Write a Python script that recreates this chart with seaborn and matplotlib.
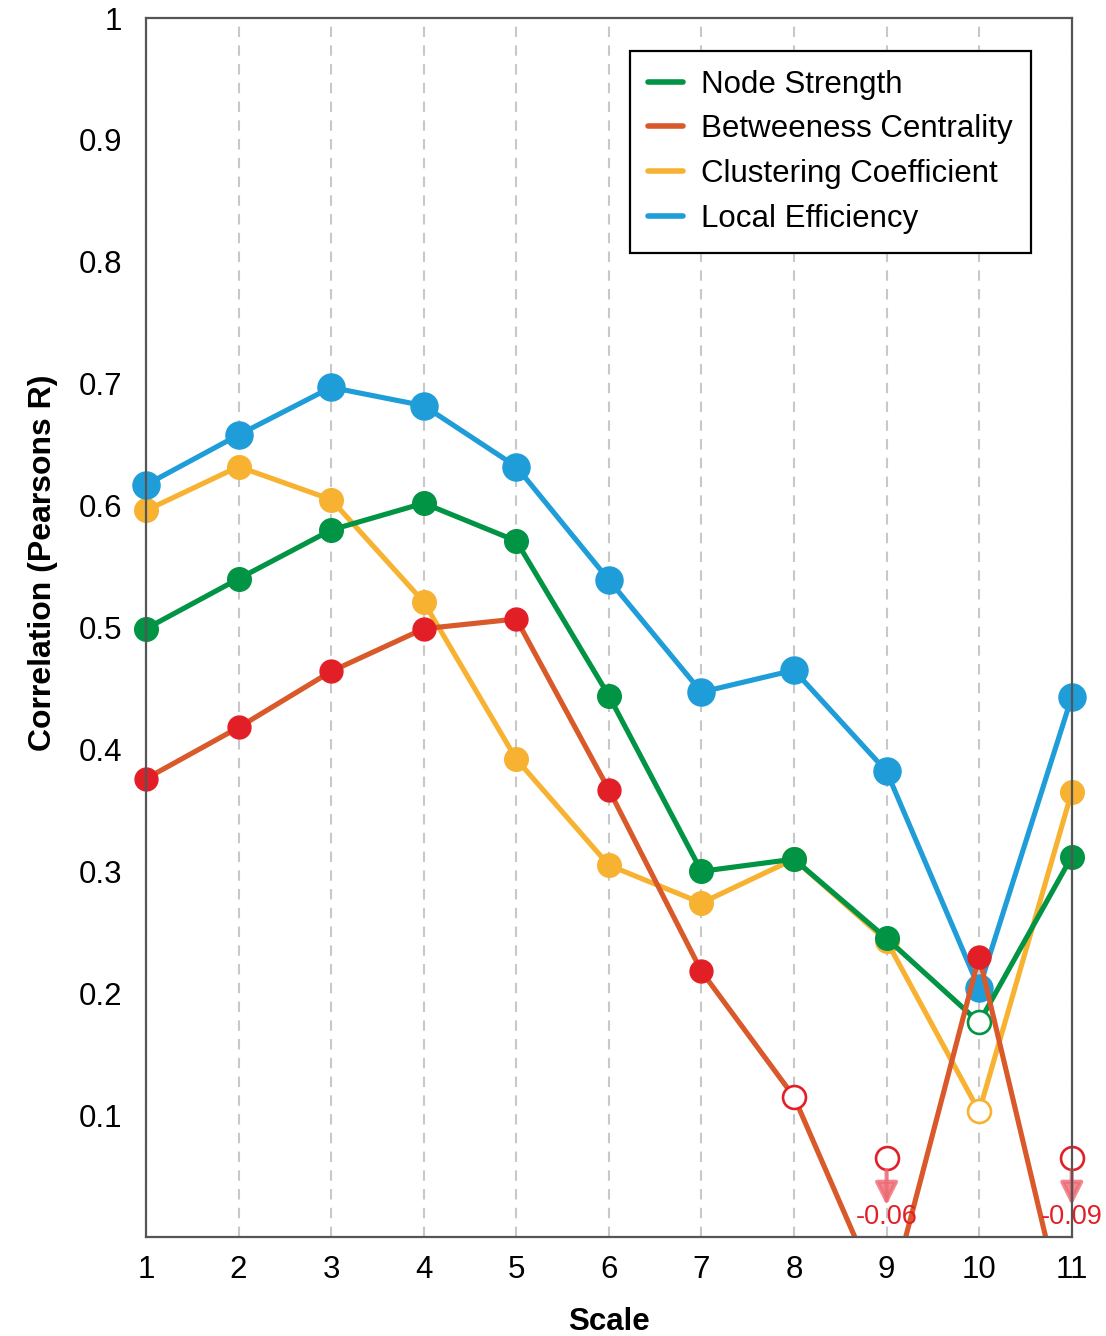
import numpy as np
import pandas as pd
import matplotlib
matplotlib.use('Agg')
import matplotlib.pyplot as plt
import seaborn as sns

# data
scales = list(range(1, 12))
node_strength = [0.499, 0.540, 0.580, 0.602, 0.571, 0.444, 0.300, 0.310, 0.245, 0.176, 0.312]
betweenness = [0.376, 0.418, 0.464, 0.499, 0.507, 0.367, 0.218, 0.115, -0.06, 0.230, -0.09]
clustering = [0.596, 0.632, 0.605, 0.521, 0.392, 0.305, 0.274, 0.310, 0.243, 0.103, 0.365]
local_eff = [0.617, 0.658, 0.697, 0.682, 0.632, 0.539, 0.447, 0.465, 0.382, 0.204, 0.443]

# non-significant points (open markers)
node_ns = [10]
betw_ns = [8, 9, 11]
clus_ns = [10]
leff_ns = []

series_names = ['Node Strength', 'Betweeness Centrality', 'Clustering Coefficient', 'Local Efficiency']
line_colors = ['#009444', '#D9592A', '#F7B232', '#1F9DD9']
marker_colors = ['#009444', '#E21F26', '#F7B232', '#1F9DD9']
marker_sizes = [17, 16.5, 17, 19.5]
zorders = [4, 5, 2, 3]

sns.set_style('white')
plt.rcParams['font.family'] = ['Liberation Sans', 'DejaVu Sans']

fig = plt.figure(figsize=(11.06, 13.36), dpi=100)
ax = fig.add_axes([0.132, 0.0741, 0.837, 0.9124])

all_vals = [node_strength, betweenness, clustering, local_eff]
all_ns = [node_ns, betw_ns, clus_ns, leff_ns]

for name, vals, ns, lc, mc, ms, z in zip(series_names, all_vals, all_ns, line_colors,
                                          marker_colors, marker_sizes, zorders):
    df = pd.DataFrame({'scale': scales, 'r': vals})
    sns.lineplot(data=df, x='scale', y='r', color=lc, linewidth=3.7, ax=ax,
                 label=name, zorder=z)
    # markers: negative values get a marker just above the axis
    shown = df.copy()
    shown['r'] = shown['r'].where(shown['r'] > 0, 0.065)
    sig = shown[~shown['scale'].isin(ns)]
    nsig = shown[shown['scale'].isin(ns)]
    ax.plot(sig['scale'], sig['r'], 'o', ms=ms, color=mc, mec=mc, zorder=z + 0.5,
            clip_on=False)
    ax.plot(nsig['scale'], nsig['r'], 'o', ms=16.5, mfc='white', mec=mc, mew=1.9,
            zorder=z + 0.6, clip_on=False)
    # arrows + real value for negative correlations
    for sx, v in zip(df['scale'], df['r']):
        if v <= 0:
            ax.annotate('', xy=(sx, 0.026), xytext=(sx, 0.055),
                        arrowprops=dict(arrowstyle='-|>', color='#EE6A74', alpha=0.8,
                                        lw=3, mutation_scale=34, shrinkA=0, shrinkB=0),
                        zorder=z + 1, annotation_clip=False)
            ax.text(sx, 0.016, f'{v:.2f}', color='#E21F26', fontsize=19.5,
                    ha='center', va='center', zorder=z + 2)

ax.set_xlim(1, 11)
ax.set_ylim(0, 1)
ax.set_xticks(scales)
yt = [0.1, 0.2, 0.3, 0.4, 0.5, 0.6, 0.7, 0.8, 0.9, 1.0]
ax.set_yticks(yt)
ax.set_yticklabels(['0.1', '0.2', '0.3', '0.4', '0.5', '0.6', '0.7', '0.8', '0.9', '1'])
ax.tick_params(axis='both', direction='in', length=7, width=1.5, color='#555555',
               labelsize=22.5, labelcolor='black')
ax.tick_params(axis='y', pad=17)
ax.tick_params(axis='x', pad=13)
ax.grid(axis='x', color='#C8C8C8', linestyle='--', linewidth=1.5, dashes=(5, 4))
ax.grid(axis='y', visible=False)
for sp in ax.spines.values():
    sp.set_color('#555555')
    sp.set_linewidth(1.6)
    sp.set_zorder(10)

ax.set_xlabel('Scale', fontsize=22.5, fontweight='bold', labelpad=16, color='black')
ax.set_ylabel('Correlation (Pearsons R)', fontsize=23, fontweight='bold', color='black')
ax.yaxis.set_label_coords(-0.095, 0.553)

leg = ax.legend(loc='upper right', bbox_to_anchor=(0.956, 0.973), fontsize=22.5,
                frameon=True, fancybox=False, edgecolor='black', framealpha=1,
                handlelength=1.12, handletextpad=0.55, borderpad=0.6, labelspacing=0.47,
                borderaxespad=0)
leg.get_frame().set_linewidth(1.6)
for line in leg.get_lines():
    line.set_linewidth(4)
for t in leg.get_texts():
    t.set_color('black')
leg.set_zorder(20)

fig.savefig('out.png', dpi=100)
